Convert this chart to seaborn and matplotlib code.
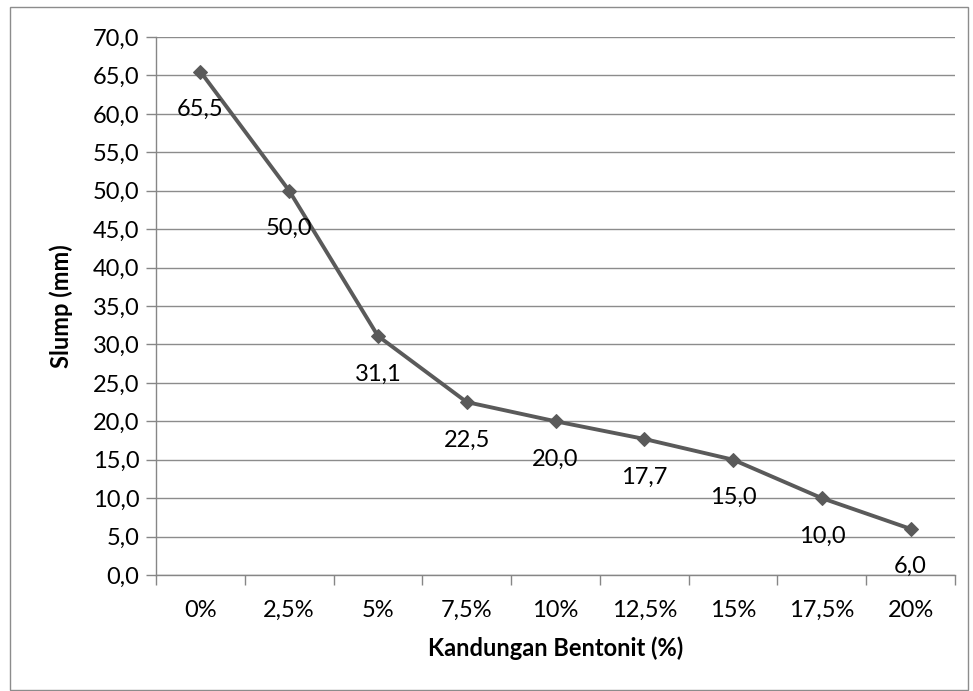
import matplotlib
matplotlib.use("Agg")
import matplotlib.pyplot as plt
import seaborn as sns
import pandas as pd
import numpy as np
from matplotlib.patches import Rectangle

categories = ["0%", "2,5%", "5%", "7,5%", "10%", "12,5%", "15%", "17,5%", "20%"]
slump = [65.5, 50.0, 31.1, 22.5, 20.0, 17.7, 15.0, 10.0, 6.0]
y_ticks = [0, 5, 10, 15, 20, 25, 30, 35, 40, 45, 50, 55, 60, 65, 70]

sns.set_theme(style="white")
plt.rcParams['font.family'] = ['Lato', 'DejaVu Sans']

df = pd.DataFrame({"pos": np.arange(len(categories)), "slump": slump})

fig = plt.figure(figsize=(9.73, 6.91), dpi=100)
W, H = 973, 691
ax = fig.add_axes([156 / W, 1 - 575 / H, (955 - 156) / W, (575 - 37) / H])

gray = "#5a5a5a"
sns.lineplot(data=df, x="pos", y="slump", ax=ax, color=gray, linewidth=2.8,
             marker="D", markersize=7, markeredgecolor=gray, markerfacecolor=gray)

fs = 17
for i, v in enumerate(slump):
    ax.annotate(f"{v:.1f}".replace(".", ","), (i, v), xytext=(0, -32),
                textcoords="offset points", ha="center", va="baseline",
                fontsize=fs, color="black")

ax.set_xlim(-0.5, len(categories) - 0.5)
ax.set_ylim(0, 70)
ax.set_yticks(y_ticks)
ax.set_yticklabels([f"{t:.1f}".replace(".", ",") for t in y_ticks], fontsize=fs, color="black")
ax.set_xticks(np.arange(len(categories)))
ax.set_xticklabels(categories, fontsize=fs, color="black", va="baseline")
ax.set_xticks(np.arange(-0.5, len(categories)), minor=True)
ax.tick_params(axis="x", which="major", length=0, pad=30)
ax.tick_params(axis="x", which="minor", length=7, width=1, color="#868686", direction="out", bottom=True)
ax.tick_params(axis="y", which="major", length=7, width=1, color="#868686", direction="out", left=True, pad=5)

ax.grid(axis="y", color="#8c8c8c", linewidth=1)
ax.set_axisbelow(True)
for s in ["top", "right"]:
    ax.spines[s].set_visible(False)
for s in ["left", "bottom"]:
    ax.spines[s].set_color("#868686")
    ax.spines[s].set_linewidth(1)

ax.set_xlabel("Kandungan Bentonit (%)", fontsize=17, fontweight="bold", labelpad=11, color="black")
ax.set_ylabel("Slump (mm)", fontsize=17, fontweight="bold", labelpad=14, color="black")

fig.patches.append(Rectangle((10 / W, 1 - 690 / H), (968 - 10) / W, (690 - 7) / H,
                             transform=fig.transFigure, fill=False,
                             edgecolor="#8c8c8c", linewidth=1))

fig.savefig("out.png", dpi=100)
